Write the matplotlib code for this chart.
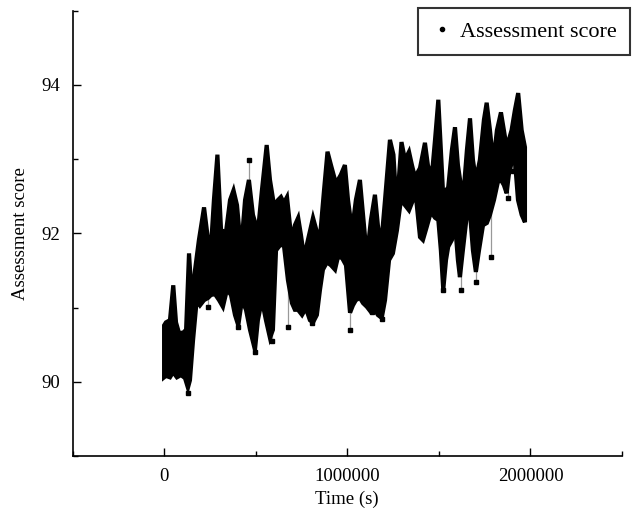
import numpy as np
import matplotlib
matplotlib.use('Agg')
import matplotlib.pyplot as plt
from matplotlib.ticker import MultipleLocator
from matplotlib.lines import Line2D

plt.rcParams['font.family'] = ['Liberation Serif', 'DejaVu Serif']

## upper edge of the score band (time in s, score)
t_hi = [0, 10000, 32000, 50000, 65000, 81000, 103000, 120000, 136000, 152000,
        169000, 190000, 218000, 240000, 256000, 272000, 291000, 311000, 338000, 360000,
        379000, 398000, 420000, 442000, 463000, 485000, 512000, 534000, 560000, 578000,
        600000, 622000, 638000, 654000, 671000, 687000, 698000, 714000, 732000, 747000,
        764000, 785000, 813000, 834000, 851000, 873000, 892000, 911000, 933000, 949000,
        965000, 987000, 1004000, 1026000, 1047000, 1069000, 1086000, 1107000, 1129000, 1151000,
        1167000, 1184000, 1206000, 1233000, 1252000, 1266000, 1277000, 1296000, 1315000, 1337000,
        1353000, 1369000, 1386000, 1397000, 1424000, 1440000, 1461000, 1479000, 1497000, 1511000,
        1524000, 1539000, 1551000, 1571000, 1588000, 1604000, 1620000, 1637000, 1653000, 1670000,
        1686000, 1702000, 1724000, 1746000, 1761000, 1779000, 1797000, 1817000, 1839000, 1855000,
        1870000, 1882000, 1897000, 1915000, 1933000, 1952000, 1970000]
v_hi = [90.76, 90.80, 90.83, 91.30, 90.80, 90.66, 90.66, 90.70, 91.73, 91.10,
        91.51, 91.91, 92.35, 91.91, 91.82, 92.45, 93.06, 92.04, 92.02, 92.45,
        92.58, 92.38, 91.77, 92.45, 92.72, 92.25, 92.02, 92.58, 93.19, 92.72,
        92.38, 92.45, 92.49, 92.41, 92.49, 92.11, 91.91, 92.11, 92.21, 91.98,
        91.68, 91.91, 92.21, 92.02, 91.95, 92.58, 93.10, 92.92, 92.72, 92.72,
        92.79, 92.92, 92.45, 92.04, 92.45, 92.72, 92.25, 91.68, 92.18, 92.52,
        92.11, 91.82, 92.45, 93.26, 93.06, 92.49, 92.58, 93.23, 92.99, 93.10,
        92.92, 92.76, 92.83, 92.88, 93.22, 92.92, 92.76, 93.26, 93.80, 93.12,
        92.49, 92.58, 92.62, 93.12, 93.43, 92.92, 92.65, 92.62, 93.12, 93.55,
        92.99, 92.72, 92.99, 93.53, 93.76, 93.39, 92.95, 93.39, 93.63, 93.39,
        93.16, 93.26, 93.39, 93.66, 93.89, 93.39, 93.16]

## lower edge of the score band
t_lo = [0, 10000, 32000, 49000, 70000, 92000, 114000, 130000, 141000, 158000,
        178000, 196000, 218000, 240000, 256000, 278000, 300000, 321000, 343000, 365000,
        387000, 405000, 425000, 447000, 469000, 496000, 512000, 534000, 556000, 578000,
        594000, 611000, 633000, 654000, 676000, 698000, 714000, 731000, 753000, 774000,
        796000, 813000, 834000, 851000, 867000, 889000, 911000, 933000, 949000, 971000,
        993000, 1015000, 1031000, 1047000, 1069000, 1086000, 1107000, 1129000, 1151000, 1167000,
        1188000, 1206000, 1228000, 1249000, 1271000, 1293000, 1315000, 1337000, 1359000, 1375000,
        1397000, 1413000, 1433000, 1457000, 1479000, 1497000, 1511000, 1524000, 1539000, 1551000,
        1571000, 1588000, 1604000, 1615000, 1631000, 1653000, 1670000, 1686000, 1702000, 1719000,
        1741000, 1762000, 1779000, 1801000, 1822000, 1839000, 1855000, 1870000, 1882000, 1897000,
        1915000, 1932000, 1952000, 1970000]
v_lo = [90.06, 90.08, 90.06, 90.13, 90.06, 90.09, 90.05, 89.92, 90.02, 90.56,
        91.10, 91.03, 91.10, 91.13, 91.17, 91.18, 91.10, 91.01, 91.24, 91.17,
        90.90, 90.76, 91.10, 90.97, 90.70, 90.43, 90.83, 91.10, 90.83, 90.59,
        90.70, 91.77, 91.84, 91.84, 91.37, 91.06, 90.97, 90.97, 90.90, 90.99,
        90.83, 90.80, 90.90, 91.24, 91.51, 91.61, 91.57, 91.51, 91.68, 91.67,
        91.57, 90.93, 91.03, 91.10, 91.13, 91.06, 91.01, 90.94, 90.97, 90.90,
        90.86, 91.10, 91.64, 91.73, 92.04, 92.45, 92.38, 92.31, 92.45, 92.49,
        91.95, 91.91, 92.08, 92.29, 92.21, 92.18, 91.77, 91.24, 91.64, 91.82,
        91.91, 92.14, 91.64, 91.41, 91.77, 92.25, 92.27, 91.77, 91.48, 91.77,
        92.11, 92.14, 92.25, 92.45, 92.69, 92.72, 92.65, 92.54, 92.79, 92.95,
        92.99, 92.45, 92.25, 92.15]

## single points that stick out of the band
t_out = [133000, 242000, 296000, 405000, 496000, 589000, 678000, 806000, 1015000,
         1133000, 1188000, 1524000, 1619000, 1701000, 1784000, 1877000, 1904000]
v_out = [89.85, 91.01, 91.20, 90.74, 90.40, 90.55, 90.74, 90.79, 90.70,
         90.94, 90.85, 91.24, 91.23, 91.35, 91.68, 92.47, 92.84]
t_up = [466000]
v_up = [92.99]

fig = plt.figure(figsize=(6.44, 5.15), dpi=100)
ax = fig.add_axes([0.1126, 0.1146, 0.8533, 0.8646])

# thin grey links from the outliers to the band
ax.vlines(t_out, v_out, np.interp(t_out, t_lo, v_lo), color='#999999', lw=0.9, zorder=1)
ax.vlines(t_up, v_up, np.interp(t_up, t_hi, v_hi), color='#999999', lw=0.9, zorder=1)

ax.fill(np.r_[t_hi, t_lo[::-1]], np.r_[v_hi, v_lo[::-1]], facecolor='black',
        edgecolor='black', lw=3, joinstyle='miter', zorder=2)
ax.plot(t_out + t_up, v_out + v_up, 's', color='black', ms=3.5, zorder=3)

ax.set_xlim(-500000, 2500000)
ax.set_ylim(89, 95)
ax.set_xticks([0, 1000000, 2000000])
ax.set_xticklabels(['0', '1000000', '2000000'])
ax.set_yticks([90, 92, 94])
ax.xaxis.set_minor_locator(MultipleLocator(500000))
ax.yaxis.set_minor_locator(MultipleLocator(1))
ax.tick_params(which='major', direction='in', length=6, width=1, labelsize=13.5, pad=9)
ax.tick_params(which='minor', direction='in', length=3.5, width=1)
ax.spines['top'].set_visible(False)
ax.spines['right'].set_visible(False)
ax.spines['left'].set_linewidth(1.2)
ax.spines['bottom'].set_linewidth(1.2)

ax.set_xlabel('Time (s)', fontsize=13.5, labelpad=4)
ax.set_ylabel('Assessment score', fontsize=13.5, labelpad=9)

h = Line2D([], [], marker='.', ls='none', color='black', ms=6)
leg = fig.legend([h], ['Assessment score'], loc='upper right',
                 bbox_to_anchor=(630 / 644, 1 - 8 / 515), bbox_transform=fig.transFigure,
                 fontsize=16, frameon=True, fancybox=False, borderaxespad=0,
                 handlelength=1.0, handletextpad=0.3, borderpad=0.6)
leg.get_frame().set_edgecolor('black')
leg.get_frame().set_linewidth(1.5)

plt.savefig('out.png', dpi=100)
